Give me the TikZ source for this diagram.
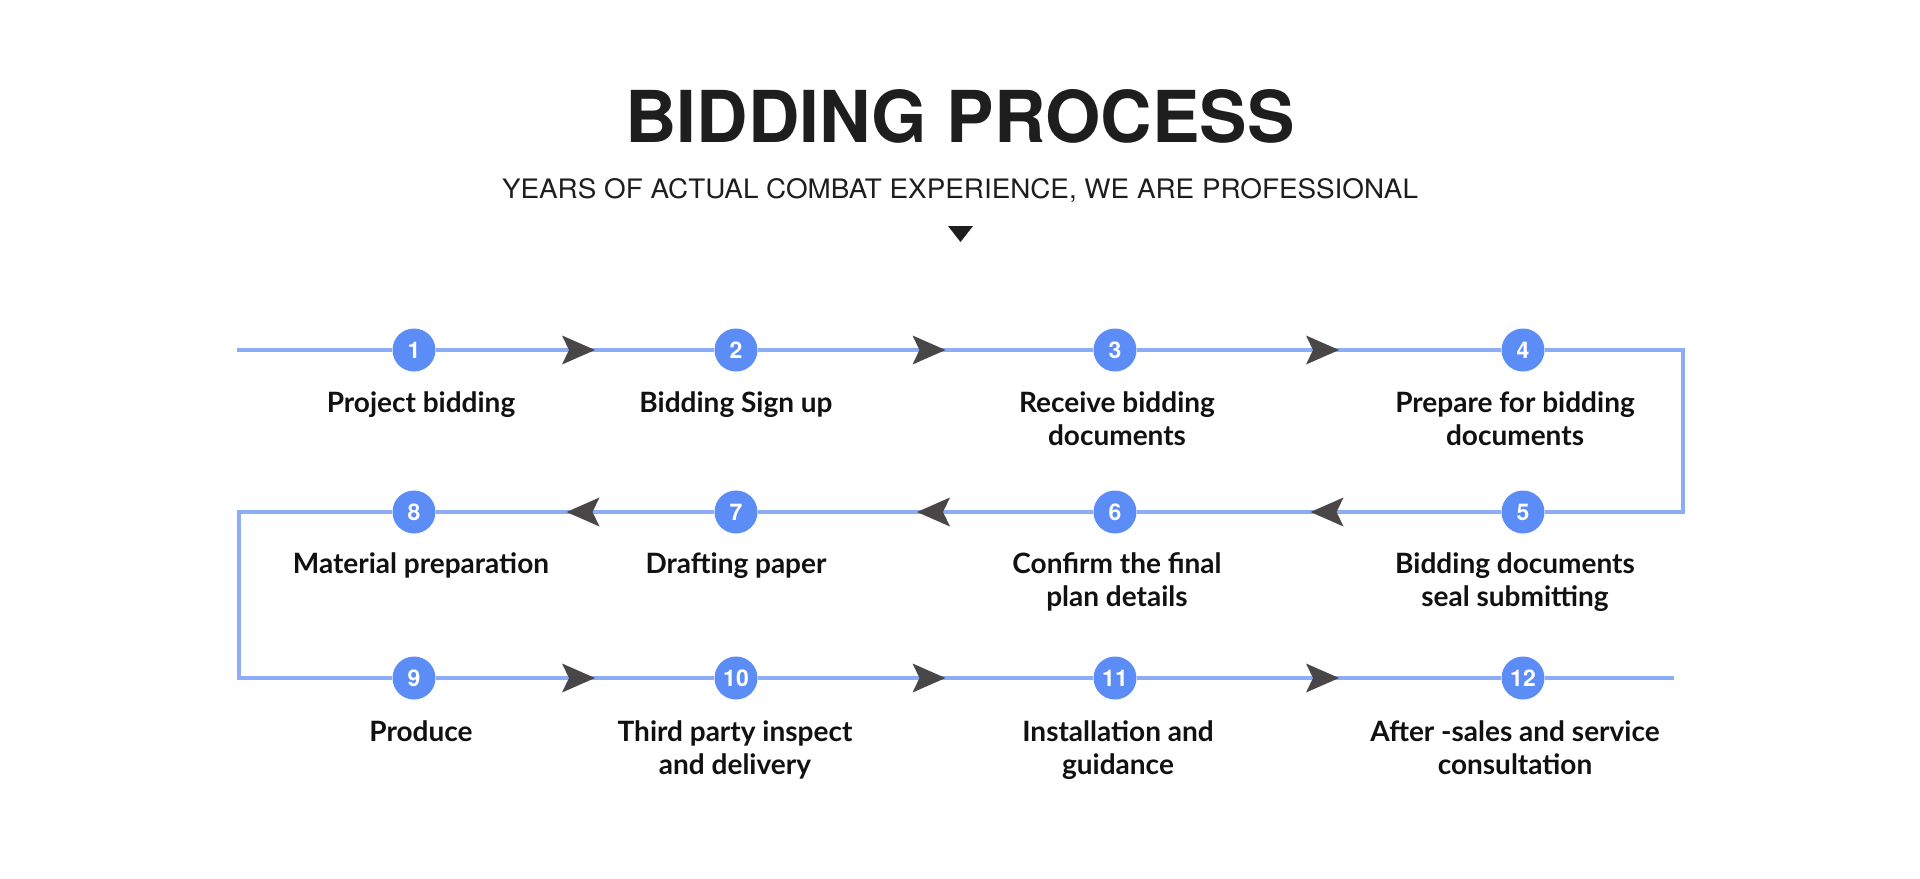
\documentclass[tikz,border=0pt]{standalone}
\usepackage{fontspec}
\usepackage{graphicx}
\setmainfont{Lato}
\newfontfamily\headfont{TeX Gyre Heros}
\usetikzlibrary{decorations.markings}
\definecolor{numblue}{RGB}{92,140,246}
\definecolor{lineblue}{RGB}{140,172,245}
\definecolor{arrowgray}{RGB}{72,70,70}
\definecolor{labelblack}{RGB}{17,17,17}
\definecolor{titlegray}{RGB}{30,30,30}
\begin{document}
\begin{tikzpicture}[x=0.5pt,y=-0.5pt,
  flow/.style={draw=lineblue, line width=1.75pt},
  num/.style={circle, fill=numblue, minimum size=21.5pt, inner sep=0pt, text=white,
    font=\headfont\bfseries\fontsize{11.5}{11.5}\selectfont},
  lab/.style={anchor=north, align=center, inner sep=0pt, text=labelblack,
    font=\bfseries\fontsize{14}{16.5}\selectfont},
  arrowA/.style={postaction={decorate}, decoration={markings,
    mark=at position 0.5 with {\fill[arrowgray] (20,0) -- (-13,14.5) -- (-6,0) -- (-13,-14.5) -- cycle;}}},
  arrowB/.style={postaction={decorate}, decoration={markings,
    mark=at position 0.5 with {\fill[arrowgray] (8.5,0) -- (-24.5,14.5) -- (-17.5,0) -- (-24.5,-14.5) -- cycle;}}}
]
\fill[white] (0,0) rectangle (1920,878);
\useasboundingbox (0,0) rectangle (1920,878);

% title
\node[anchor=base, inner sep=0pt, text=titlegray] (title) at (960,142)
  {\resizebox{334.5pt}{26.5pt}{\headfont\bfseries BIDDING PROCESS}};
\node[anchor=base, inner sep=0pt, text=titlegray] (sub) at (960,198)
  {\resizebox{458pt}{10pt}{\headfont YEARS OF ACTUAL COMBAT EXPERIENCE, WE ARE PROFESSIONAL}};
\fill[titlegray] (948,226) -- (973,226) -- (960.5,242) -- cycle;

% numbered circles
\node[num] (n1)  at (414,350) {1};
\node[num] (n2)  at (736,350) {2};
\node[num] (n3)  at (1115,350) {3};
\node[num] (n4)  at (1523,350) {4};
\node[num] (n5)  at (1523,512) {5};
\node[num] (n6)  at (1115,512) {6};
\node[num] (n7)  at (736,512) {7};
\node[num] (n8)  at (414,512) {8};
\node[num] (n9)  at (414,678) {9};
\node[num] (n10) at (736,678) {10};
\node[num] (n11) at (1115,678) {11};
\node[num] (n12) at (1523,678) {12};

% corner coordinates
\coordinate (s)  at (237,350);
\coordinate (k1) at (1683,350);
\coordinate (k2) at (1683,512);
\coordinate (k3) at (239,512);
\coordinate (k4) at (239,678);
\coordinate (e)  at (1674,678);

% connectors
\draw[flow] (s) -- (n1);
\draw[flow, arrowA] (n1) -- (n2);
\draw[flow, arrowA] (n2) -- (n3);
\draw[flow, arrowA] (n3) -- (n4);
\draw[flow] (n4) -- (k1) -- (k2) -- (n5);
\draw[flow, arrowB] (n5) -- (n6);
\draw[flow, arrowB] (n6) -- (n7);
\draw[flow, arrowB] (n7) -- (n8);
\draw[flow] (n8) -- (k3) -- (k4) -- (n9);
\draw[flow, arrowA] (n9) -- (n10);
\draw[flow, arrowA] (n10) -- (n11);
\draw[flow, arrowA] (n11) -- (n12);
\draw[flow] (n12) -- (e);

% labels
\node[lab] (l1)  at (421,391)  {Project bidding};
\node[lab] (l2)  at (736,391)  {Bidding Sign up};
\node[lab] (l3)  at (1117,391) {Receive bidding\\documents};
\node[lab] (l4)  at (1515,391) {Prepare for bidding\\documents};
\node[lab] (l5)  at (1515,552) {Bidding documents\\seal submitting};
\node[lab] (l6)  at (1117,552) {Confirm the final\\plan details};
\node[lab] (l7)  at (736,552)  {Drafting paper};
\node[lab] (l8)  at (421,552)  {Material preparation};
\node[lab] (l9)  at (421,720)  {Produce};
\node[lab] (l10) at (735,720)  {Third party inspect\\and delivery};
\node[lab] (l11) at (1118,720) {Installation and\\guidance};
\node[lab] (l12) at (1515,720) {After -sales and service\\consultation};
\end{tikzpicture}
\end{document}
